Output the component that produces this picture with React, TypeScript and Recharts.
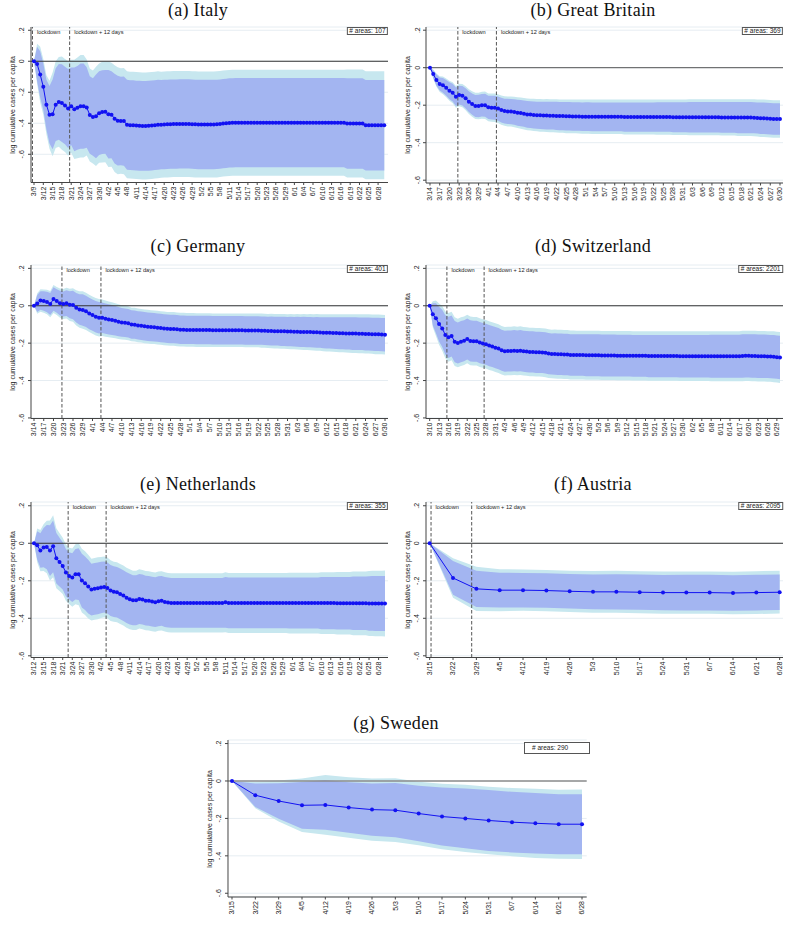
import React from 'react';
import { ComposedChart, Area, Line, XAxis, YAxis, CartesianGrid, ReferenceLine } from 'recharts';

// ---------- tick labels ----------
const yTickValues = [0.2, 0, -0.2, -0.4, -0.6];
const yTickLabels = ['.2', '0', '-.2', '-.4', '-.6'];

const itTicks = ['3/9','3/12','3/15','3/18','3/21','3/24','3/27','3/30','4/2','4/5','4/8','4/11','4/14','4/17','4/20','4/23','4/26','4/29','5/2','5/5','5/8','5/11','5/14','5/17','5/20','5/23','5/26','5/29','6/1','6/4','6/7','6/10','6/13','6/16','6/19','6/22','6/25','6/28'];
const gbTicks = ['3/14','3/17','3/20','3/23','3/26','3/29','4/1','4/4','4/7','4/10','4/13','4/16','4/19','4/22','4/25','4/28','5/1','5/4','5/7','5/10','5/13','5/16','5/19','5/22','5/25','5/28','5/31','6/3','6/6','6/9','6/12','6/15','6/18','6/21','6/24','6/27','6/30'];
const deTicks = gbTicks;
const chTicks = ['3/10','3/13','3/16','3/19','3/22','3/25','3/28','3/31','4/3','4/6','4/9','4/12','4/15','4/18','4/21','4/24','4/27','4/30','5/3','5/6','5/9','5/12','5/15','5/18','5/21','5/24','5/27','5/30','6/2','6/5','6/8','6/11','6/14','6/17','6/20','6/23','6/26','6/29'];
const nlTicks = ['3/12','3/15','3/18','3/21','3/24','3/27','3/30','4/2','4/5','4/8','4/11','4/14','4/17','4/20','4/23','4/26','4/29','5/2','5/5','5/8','5/11','5/14','5/17','5/20','5/23','5/26','5/29','6/1','6/4','6/7','6/10','6/13','6/16','6/19','6/22','6/25','6/28'];
const weeklyTicks = ['3/15','3/22','3/29','4/5','4/12','4/19','4/26','5/3','5/10','5/17','5/24','5/31','6/7','6/14','6/21','6/28'];

// ---------- Italy (daily from 3/9) ----------
const itMean = [
0,-.017,-.086,-.165,-.28,-.345,-.342,-.28,-.262,-.27,
-.285,-.305,-.29,-.31,-.3,-.29,-.29,-.298,-.346,-.36,
-.355,-.335,-.328,-.326,-.342,-.345,-.37,-.383,-.385,-.386,
-.41,-.412,-.413,-.415,-.416,-.417,-.417,-.416,-.414,-.412,
-.41,-.409,-.408,-.407,-.406,-.405,-.405,-.404,-.404,-.404,
-.404,-.406,-.407,-.408,-.408,-.408,-.408,-.408,-.408,-.407,
-.405,-.402,-.4,-.398,-.397,-.396,-.396,-.396,-.396,-.396,
-.396,-.396,-.396,-.396,-.396,-.396,-.396,-.396,-.396,-.396,
-.396,-.396,-.396,-.396,-.396,-.396,-.396,-.396,-.396,-.396,
-.396,-.396,-.396,-.396,-.396,-.396,-.396,-.396,-.396,-.396,
-.396,-.401,-.401,-.401,-.401,-.401,-.401,-.413,-.413,-.413,
-.413,-.413,-.413,-.413];
const itHw95 = [
0,.13,.18,.18,.19,.22,.27,.28,.29,.3,
.3,.305,.3,.32,.325,.33,.33,.31,.3,.3,
.32,.32,.325,.325,.34,.335,.345,.345,.34,.343,
.345,.345,.345,.345,.345,.345,.345,.345,.345,.345,
.345,.342,.342,.342,.342,.342,.342,.342,.342,.342,
.342,.342,.342,.342,.342,.342,.342,.342,.342,.342,
.342,.342,.342,.342,.342,.342,.342,.342,.342,.342,
.342,.342,.342,.342,.342,.342,.342,.342,.342,.342,
.342,.342,.342,.342,.342,.342,.342,.342,.342,.342,
.342,.342,.342,.342,.342,.342,.342,.342,.342,.342,
.342,.348,.348,.348,.348,.348,.348,.348,.348,.348,
.348,.348,.348,.348];
const itHw90 = [
0,.11,.15,.15,.16,.185,.225,.235,.245,.25,
.25,.255,.25,.27,.27,.275,.275,.26,.25,.25,
.27,.27,.27,.27,.285,.28,.29,.29,.285,.288,
.29,.29,.29,.29,.29,.29,.29,.29,.29,.29,
.29,.288,.288,.288,.288,.288,.288,.288,.288,.288,
.288,.288,.288,.288,.288,.288,.288,.288,.288,.288,
.288,.288,.288,.288,.288,.288,.288,.288,.288,.288,
.288,.288,.288,.288,.288,.288,.288,.288,.288,.288,
.288,.288,.288,.288,.288,.288,.288,.288,.288,.288,
.288,.288,.288,.288,.288,.288,.288,.288,.288,.288,
.288,.292,.292,.292,.292,.292,.292,.292,.292,.292,
.292,.292,.292,.292];

// ---------- Great Britain (daily from 3/14) ----------
const gbMean = [
0,-.034,-.066,-.087,-.094,-.107,-.123,-.133,-.155,-.146,
-.149,-.163,-.181,-.194,-.204,-.204,-.2,-.2,-.211,-.213,
-.213,-.218,-.226,-.231,-.233,-.234,-.236,-.24,-.242,-.245,
-.249,-.25,-.252,-.253,-.254,-.255,-.255,-.256,-.256,-.257,
-.258,-.258,-.259,-.259,-.26,-.26,-.26,-.261,-.261,-.261,
-.262,-.262,-.262,-.262,-.262,-.262,-.262,-.262,-.262,-.262,
-.263,-.263,-.263,-.263,-.263,-.263,-.263,-.263,-.263,-.263,
-.263,-.263,-.263,-.263,-.263,-.264,-.264,-.264,-.264,-.264,
-.264,-.264,-.264,-.264,-.264,-.264,-.264,-.264,-.264,-.264,
-.265,-.265,-.265,-.265,-.265,-.266,-.266,-.266,-.266,-.266,
-.267,-.268,-.269,-.27,-.271,-.272,-.273,-.273,-.274];
const gbHw95 = [
0,.025,.035,.042,.047,.05,.053,.056,.058,.06,
.062,.064,.066,.068,.07,.071,.072,.073,.074,.075,
.076,.077,.078,.079,.08,.08,.081,.082,.083,.084,
.085,.085,.086,.086,.087,.087,.088,.088,.088,.089,
.089,.089,.09,.09,.09,.09,.091,.091,.091,.091,
.092,.092,.092,.092,.092,.092,.092,.092,.092,.092,
.093,.093,.093,.093,.093,.093,.093,.093,.093,.093,
.094,.094,.094,.094,.094,.095,.095,.095,.095,.095,
.096,.096,.096,.096,.096,.096,.096,.096,.096,.096,
.097,.097,.097,.097,.097,.098,.098,.098,.098,.098,
.099,.099,.1,.1,.1,.1,.1,.1,.1];
const gbHw90 = [
0,.021,.03,.035,.039,.042,.045,.047,.049,.05,
.052,.054,.055,.057,.059,.06,.06,.061,.062,.063,
.064,.065,.066,.066,.067,.067,.068,.069,.07,.07,
.071,.071,.072,.072,.073,.073,.074,.074,.074,.075,
.075,.075,.076,.076,.076,.076,.076,.076,.077,.077,
.077,.077,.077,.077,.077,.077,.077,.077,.077,.077,
.078,.078,.078,.078,.078,.078,.078,.078,.078,.078,
.079,.079,.079,.079,.079,.08,.08,.08,.08,.08,
.081,.081,.081,.081,.081,.081,.081,.081,.081,.081,
.082,.082,.082,.082,.082,.083,.083,.083,.083,.083,
.083,.083,.084,.084,.084,.084,.084,.084,.084];

// ---------- Germany (daily from 3/14) ----------
const deMean = [
0,.012,.028,.025,.02,.009,.036,.025,.014,.009,
.014,.005,.004,-.011,-.02,-.023,-.03,-.041,-.05,-.059,
-.064,-.064,-.069,-.073,-.076,-.08,-.085,-.089,-.091,-.094,
-.1,-.101,-.105,-.107,-.11,-.112,-.114,-.115,-.117,-.119,
-.121,-.123,-.124,-.124,-.126,-.128,-.128,-.129,-.129,-.129,
-.13,-.13,-.13,-.13,-.13,-.131,-.131,-.131,-.131,-.131,
-.131,-.131,-.131,-.131,-.131,-.132,-.132,-.132,-.132,-.132,
-.133,-.134,-.135,-.135,-.136,-.136,-.137,-.137,-.138,-.138,
-.139,-.139,-.14,-.14,-.141,-.141,-.142,-.142,-.143,-.144,
-.145,-.145,-.146,-.146,-.147,-.147,-.148,-.148,-.149,-.149,
-.15,-.15,-.151,-.151,-.152,-.153,-.153,-.154,-.155];
const deHw95 = [
0,.055,.06,.062,.065,.07,.075,.075,.078,.08,
.082,.086,.09,.094,.097,.1,.1,.1,.1,.1,
.1,.098,.097,.096,.095,.094,.093,.092,.091,.091,
.09,.09,.09,.09,.09,.09,.09,.09,.09,.09,
.09,.09,.09,.09,.09,.09,.09,.09,.09,.09,
.09,.09,.09,.09,.09,.09,.09,.09,.09,.09,
.09,.09,.09,.09,.09,.09,.09,.09,.09,.09,
.091,.091,.091,.092,.092,.092,.093,.093,.093,.094,
.094,.095,.095,.096,.096,.097,.097,.098,.098,.099,
.099,.1,.1,.101,.101,.102,.102,.103,.103,.104,
.104,.104,.105,.105,.105,.106,.106,.106,.106];
const deHw90 = [
0,.046,.05,.052,.055,.059,.063,.063,.066,.067,
.069,.072,.076,.079,.081,.084,.084,.084,.084,.084,
.084,.082,.081,.081,.08,.079,.078,.077,.076,.076,
.076,.076,.076,.076,.076,.076,.076,.076,.076,.076,
.076,.076,.076,.076,.076,.076,.076,.076,.076,.076,
.076,.076,.076,.076,.076,.076,.076,.076,.076,.076,
.076,.076,.076,.076,.076,.076,.076,.076,.076,.076,
.076,.076,.076,.077,.077,.077,.078,.078,.078,.079,
.079,.08,.08,.081,.081,.081,.081,.082,.082,.083,
.083,.084,.084,.085,.085,.085,.086,.086,.087,.087,
.087,.087,.088,.088,.088,.089,.089,.089,.089];

// ---------- Switzerland (daily from 3/10) ----------
const chMean = [
0,-.046,-.067,-.098,-.121,-.156,-.169,-.162,-.192,-.199,
-.192,-.187,-.178,-.188,-.19,-.19,-.197,-.202,-.206,-.213,
-.218,-.224,-.229,-.238,-.243,-.242,-.242,-.24,-.242,-.24,
-.243,-.245,-.247,-.247,-.249,-.249,-.25,-.252,-.256,-.258,
-.258,-.259,-.259,-.261,-.261,-.263,-.263,-.264,-.264,-.264,
-.265,-.265,-.265,-.265,-.265,-.266,-.266,-.266,-.266,-.266,
-.267,-.267,-.267,-.267,-.267,-.268,-.268,-.268,-.268,-.268,
-.269,-.269,-.269,-.269,-.269,-.269,-.269,-.269,-.269,-.269,
-.27,-.27,-.27,-.27,-.27,-.27,-.27,-.27,-.27,-.27,
-.27,-.27,-.27,-.27,-.27,-.27,-.27,-.27,-.27,-.27,
-.269,-.268,-.268,-.269,-.269,-.27,-.27,-.27,-.271,-.272,
-.273,-.275,-.277];
const chHw95 = [
0,.07,.095,.11,.12,.125,.13,.13,.13,.13,
.13,.13,.13,.13,.13,.13,.13,.13,.13,.13,
.13,.13,.13,.13,.13,.13,.13,.13,.13,.13,
.13,.13,.13,.13,.13,.13,.13,.13,.13,.13,
.131,.131,.131,.131,.131,.131,.131,.131,.131,.131,
.131,.131,.131,.131,.131,.131,.131,.131,.131,.131,
.132,.132,.132,.132,.132,.132,.132,.132,.132,.132,
.132,.132,.132,.132,.132,.132,.132,.132,.132,.132,
.133,.133,.133,.133,.133,.133,.133,.133,.133,.133,
.134,.134,.134,.134,.134,.134,.134,.134,.134,.134,
.135,.135,.135,.135,.135,.135,.135,.135,.135,.135,
.136,.136,.136];
const chHw90 = [
0,.06,.08,.093,.1,.105,.11,.11,.11,.11,
.11,.11,.11,.11,.11,.11,.11,.11,.11,.11,
.11,.11,.11,.11,.11,.11,.11,.11,.11,.11,
.11,.11,.11,.11,.11,.11,.11,.11,.11,.11,
.111,.111,.111,.111,.111,.111,.111,.111,.111,.111,
.112,.112,.112,.112,.112,.112,.112,.112,.112,.112,
.112,.112,.112,.112,.112,.112,.112,.112,.112,.112,
.113,.113,.113,.113,.113,.113,.113,.113,.113,.113,
.114,.114,.114,.114,.114,.114,.114,.114,.114,.114,
.115,.115,.115,.115,.115,.115,.115,.115,.115,.115,
.116,.116,.116,.116,.116,.116,.116,.116,.116,.116,
.116,.116,.116];

// ---------- Netherlands (daily from 3/12) ----------
const nlMean = [
0,-.011,-.039,-.023,-.02,-.039,-.016,-.08,-.1,-.121,
-.156,-.174,-.183,-.165,-.165,-.199,-.213,-.231,-.247,-.243,
-.24,-.236,-.233,-.238,-.252,-.258,-.261,-.27,-.279,-.29,
-.298,-.304,-.304,-.297,-.3,-.306,-.307,-.311,-.314,-.309,
-.307,-.313,-.316,-.318,-.318,-.318,-.318,-.318,-.318,-.318,
-.318,-.318,-.318,-.318,-.318,-.318,-.318,-.318,-.318,-.318,
-.315,-.318,-.318,-.318,-.318,-.318,-.318,-.318,-.318,-.318,
-.318,-.318,-.318,-.318,-.318,-.318,-.318,-.318,-.318,-.318,
-.319,-.319,-.319,-.319,-.319,-.319,-.319,-.319,-.319,-.319,
-.319,-.319,-.319,-.319,-.319,-.32,-.32,-.32,-.32,-.32,
-.32,-.32,-.32,-.32,-.32,-.321,-.321,-.321,-.321,-.321,
-.321];
const nlHw95 = [
0,.09,.11,.125,.14,.16,.165,.16,.155,.15,
.15,.15,.155,.16,.165,.17,.17,.17,.165,.165,
.165,.163,.162,.162,.162,.16,.16,.16,.16,.16,
.16,.158,.158,.158,.158,.158,.158,.158,.158,.158,
.158,.158,.158,.158,.158,.158,.158,.158,.158,.158,
.158,.158,.158,.158,.158,.158,.158,.158,.158,.158,
.16,.16,.16,.16,.16,.16,.16,.16,.16,.16,
.16,.16,.16,.16,.16,.16,.16,.16,.16,.16,
.162,.162,.162,.162,.162,.162,.162,.162,.162,.162,
.165,.165,.165,.165,.165,.167,.167,.167,.167,.167,
.17,.17,.17,.17,.17,.173,.174,.175,.175,.175,
.176];
const nlHw90 = [
0,.075,.092,.105,.118,.135,.138,.135,.13,.126,
.126,.126,.13,.135,.138,.143,.143,.143,.138,.138,
.138,.137,.136,.136,.136,.135,.135,.135,.135,.135,
.135,.133,.133,.133,.133,.133,.133,.133,.133,.133,
.133,.133,.133,.133,.133,.133,.133,.133,.133,.133,
.133,.133,.133,.133,.133,.133,.133,.133,.133,.133,
.135,.135,.135,.135,.135,.135,.135,.135,.135,.135,
.135,.135,.135,.135,.135,.135,.135,.135,.135,.135,
.136,.136,.136,.136,.136,.136,.136,.136,.136,.136,
.139,.139,.139,.139,.139,.14,.14,.14,.14,.14,
.143,.143,.143,.143,.143,.145,.146,.147,.147,.147,
.147];

// ---------- Austria (weekly from 3/15) ----------
const atMean = [0,-.185,-.243,-.25,-.25,-.252,-.256,-.259,-.259,-.261,-.263,-.263,-.263,-.265,-.263,-.261];
const atHw95 = [0,.105,.118,.112,.11,.11,.11,.111,.112,.112,.113,.113,.113,.113,.114,.114];
const atHw90 = [0,.09,.097,.093,.092,.092,.092,.093,.094,.094,.094,.095,.095,.095,.095,.095];

// ---------- Sweden (weekly from 3/15) ----------
const seMean = [0,-.076,-.107,-.13,-.128,-.142,-.153,-.156,-.174,-.19,-.2,-.211,-.22,-.226,-.231,-.231];
const seHw95 = [0,.07,.11,.143,.16,.162,.166,.17,.17,.175,.18,.18,.182,.185,.184,.186];
const seHw90 = [0,.063,.095,.125,.133,.135,.14,.145,.148,.155,.16,.163,.162,.162,.16,.16];

// ---------- styling ----------
const SANS = '"Liberation Sans", Arial, Helvetica, sans-serif';
const SERIF = '"Liberation Serif", "Times New Roman", serif';
const BLUE = '#1212f2';
const INNER = '#a3b5f1';
const OUTER = '#c7e7ef';
const YLABEL = 'log cumulative cases per capita';

type PanelCfg = {
  title: string;
  areas: string;
  mean: number[];
  hw90: number[];
  hw95: number[];
  step: number;
  tickLabels: string[];
  tickStep: number;
  lock: number[];
  plotLeft: number;
  plotRight: number;
  plotTop: number;
  plotBottom: number;
  xDomain: [number, number];
  yDomain: [number, number];
  titleX: number;
  titleY: number;
  dotR: number;
  zeroColor: string;
  zeroWidth: number;
  bigBox?: boolean;
};

const panels: PanelCfg[] = [
  { title: '(a) Italy', areas: '107', mean: itMean, hw90: itHw90, hw95: itHw95, step: 1, tickLabels: itTicks, tickStep: 3,
    lock: [-0.5, 11.5], plotLeft: 31, plotRight: 388, plotTop: 27, plotBottom: 182.5, xDomain: [-0.97, 114.2], yDomain: [-0.782, 0.221],
    titleX: 198, titleY: 9.5, dotR: 2, zeroColor: '#333', zeroWidth: 1 },
  { title: '(b) Great Britain', areas: '369', mean: gbMean, hw90: gbHw90, hw95: gbHw95, step: 1, tickLabels: gbTicks, tickStep: 3,
    lock: [8.6, 20.5], plotLeft: 426, plotRight: 783, plotTop: 27, plotBottom: 183, xDomain: [-1.23, 108.93], yDomain: [-0.615, 0.217],
    titleX: 593, titleY: 9.5, dotR: 2, zeroColor: '#555', zeroWidth: 1 },
  { title: '(c) Germany', areas: '401', mean: deMean, hw90: deHw90, hw95: deHw95, step: 1, tickLabels: deTicks, tickStep: 3,
    lock: [8.6, 20.6], plotLeft: 31, plotRight: 388, plotTop: 265, plotBottom: 418.5, xDomain: [-0.92, 108.92], yDomain: [-0.603, 0.218],
    titleX: 198, titleY: 245.5, dotR: 2, zeroColor: '#333', zeroWidth: 1 },
  { title: '(d) Switzerland', areas: '2201', mean: chMean, hw90: chHw90, hw95: chHw95, step: 1, tickLabels: chTicks, tickStep: 3,
    lock: [5.5, 17.4], plotLeft: 426, plotRight: 783, plotTop: 265, plotBottom: 418.5, xDomain: [-1.18, 112.96], yDomain: [-0.603, 0.218],
    titleX: 593, titleY: 245.5, dotR: 2, zeroColor: '#333', zeroWidth: 1 },
  { title: '(e) Netherlands', areas: '355', mean: nlMean, hw90: nlHw90, hw95: nlHw95, step: 1, tickLabels: nlTicks, tickStep: 3,
    lock: [10.7, 22.6], plotLeft: 31, plotRight: 388, plotTop: 502, plotBottom: 657.5, xDomain: [-0.94, 110.94], yDomain: [-0.609, 0.22],
    titleX: 198, titleY: 483.5, dotR: 2, zeroColor: '#333', zeroWidth: 1 },
  { title: '(f) Austria', areas: '2095', mean: atMean, hw90: atHw90, hw95: atHw95, step: 7, tickLabels: weeklyTicks, tickStep: 7,
    lock: [0.4, 12.6], plotLeft: 426, plotRight: 783, plotTop: 502, plotBottom: 657.5, xDomain: [-1.11, 106.0], yDomain: [-0.609, 0.22],
    titleX: 593, titleY: 483.5, dotR: 2, zeroColor: '#333', zeroWidth: 1 },
  { title: '(g) Sweden', areas: '290', mean: seMean, hw90: seHw90, hw95: seHw95, step: 7, tickLabels: weeklyTicks, tickStep: 7,
    lock: [], plotLeft: 228.3, plotRight: 587, plotTop: 740, plotBottom: 897, xDomain: [-1.2, 106.4], yDomain: [-0.62, 0.219],
    titleX: 396, titleY: 722.5, dotR: 2, zeroColor: '#8c8c8c', zeroWidth: 1.6, bigBox: true },
];

const lockNames = ['lockdown', 'lockdown + 12 days'];

function makeXTick(labels: string[], step: number) {
  return (p: any) => {
    const v = p.payload ? p.payload.value : 0;
    const lab = labels[Math.round(v / step)] ?? '';
    return (
      <text x={p.x} y={p.y} transform={`rotate(-90 ${p.x} ${p.y})`} textAnchor="end" dy="0.35em"
        fontSize={7} fill="#222" fontFamily={SANS}>{lab}</text>
    );
  };
}

function yTick(p: any) {
  const v = p.payload ? p.payload.value : 0;
  const idx = yTickValues.findIndex((t) => Math.abs(t - v) < 1e-9);
  return (
    <text x={p.x} y={p.y} transform={`rotate(-90 ${p.x} ${p.y})`} textAnchor="middle" dy={-0.5}
      fontSize={7} fill="#222" fontFamily={SANS}>{idx >= 0 ? yTickLabels[idx] : ''}</text>
  );
}

function lockLabel(text: string) {
  return (p: any) => {
    const vb = p && p.viewBox;
    if (!vb) return null;
    return (
      <text x={vb.x + 4.5} y={vb.y + 6.5} fontSize={5.6} fill="#222" fontFamily={SANS}>{text}</text>
    );
  };
}

function Panel({ cfg }: { cfg: PanelCfg }) {
  const rows = cfg.mean.map((m, i) => ({
    x: i * cfg.step,
    mean: m,
    inner: [m - cfg.hw90[i], m + cfg.hw90[i]],
    outer: [m - cfg.hw95[i], m + cfg.hw95[i]],
  }));
  const xTicks = cfg.tickLabels.map((_, i) => i * cfg.tickStep);
  const yw = 31;
  const xh = 30;
  const mt = 6;
  const mr = 4;
  const plotW = cfg.plotRight - cfg.plotLeft;
  const plotH = cfg.plotBottom - cfg.plotTop;
  const W = yw + plotW + mr;
  const H = mt + plotH + xh;
  return (
    <div style={{ position: 'absolute', left: cfg.plotLeft - yw, top: cfg.plotTop - mt, width: W, height: H }}>
      <ComposedChart width={W} height={H} data={rows} margin={{ top: mt, right: mr, bottom: 0, left: 0 }}>
        <CartesianGrid horizontal vertical={false} stroke="#e6edf2" strokeWidth={1} />
        <XAxis type="number" dataKey="x" domain={cfg.xDomain} ticks={xTicks} interval={0} allowDataOverflow
          height={xh} tickSize={2.5} tickMargin={1.5} stroke="#444" tickLine={{ stroke: '#444' }}
          tick={makeXTick(cfg.tickLabels, cfg.tickStep)} />
        <YAxis type="number" domain={cfg.yDomain} ticks={yTickValues} interval={0} allowDataOverflow
          width={yw} tickSize={3} tickMargin={3} stroke="#444" tickLine={{ stroke: '#444' }} tick={yTick} />
        <Area type="linear" dataKey="outer" stroke="none" fill={OUTER} fillOpacity={1} isAnimationActive={false}
          dot={false} activeDot={false} />
        <Area type="linear" dataKey="inner" stroke="none" fill={INNER} fillOpacity={1} isAnimationActive={false}
          dot={false} activeDot={false} />
        <ReferenceLine y={0} stroke={cfg.zeroColor} strokeWidth={cfg.zeroWidth} />
        {cfg.lock.map((lx, i) => (
          <ReferenceLine key={i} x={lx} stroke="#555" strokeWidth={1} strokeDasharray="3.5 2"
            label={lockLabel(lockNames[i])} />
        ))}
        <Line type="linear" dataKey="mean" stroke={BLUE} strokeWidth={1} isAnimationActive={false}
          dot={{ r: cfg.dotR, fill: BLUE, stroke: BLUE, strokeWidth: 0 }} activeDot={false} />
      </ComposedChart>
    </div>
  );
}

function Texts({ cfg }: { cfg: PanelCfg }) {
  const midY = (cfg.plotTop + cfg.plotBottom) / 2;
  const labelX = cfg.plotLeft - 19.5;
  return (
    <>
      <div style={{ position: 'absolute', left: cfg.titleX, top: cfg.titleY, transform: 'translate(-50%, -50%)',
        fontFamily: SERIF, fontSize: 18, letterSpacing: 0.3, whiteSpace: 'nowrap', color: '#111', lineHeight: 1 }}>{cfg.title}</div>
      <div style={{ position: 'absolute', left: labelX, top: midY, transform: 'translate(-50%, -50%) rotate(-90deg)',
        fontFamily: SANS, fontSize: 7, whiteSpace: 'nowrap', color: '#222', lineHeight: 1 }}>{YLABEL}</div>
      {cfg.bigBox ? (
        <div style={{ position: 'absolute', left: cfg.plotRight - 63, top: cfg.plotTop + 2, width: 57, height: 10,
          border: '1px solid #555', fontFamily: SANS, fontSize: 6.5, lineHeight: '10px', color: '#222',
          paddingLeft: 7, boxSizing: 'content-box', whiteSpace: 'nowrap', background: '#fff' }}>{'# areas: ' + cfg.areas}</div>
      ) : (
        <div style={{ position: 'absolute', left: cfg.plotRight, top: cfg.plotTop, transform: 'translateX(-100%)',
          border: '1px solid #555', fontFamily: SANS, fontSize: 6.5, lineHeight: '6px', height: 6, padding: '0 1.5px',
          color: '#222', whiteSpace: 'nowrap', background: '#fff' }}>{'# areas: ' + cfg.areas}</div>
      )}
    </>
  );
}

export default function App() {
  return (
    <div style={{ position: 'absolute', left: 0, top: 0, width: 791, height: 930, background: '#fff', overflow: 'hidden' }}>
      {panels.map((cfg, i) => (
        <React.Fragment key={i}>
          <Panel cfg={cfg} />
          <Texts cfg={cfg} />
        </React.Fragment>
      ))}
    </div>
  );
}
